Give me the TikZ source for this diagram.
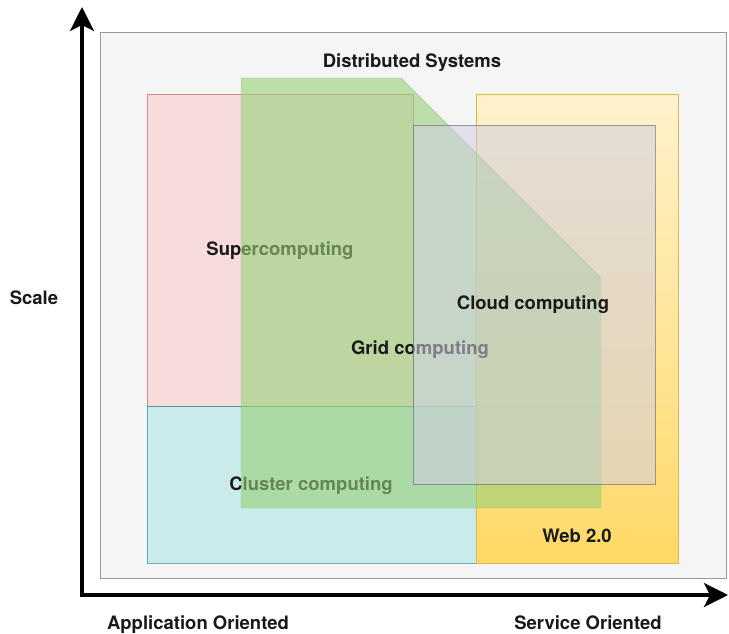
\documentclass[tikz,border=0pt]{standalone}
\usepackage{fontspec}
\setmainfont{TeX Gyre Heros}
\usepackage{tikz}
\usepackage{xcolor}
\usetikzlibrary{
    arrows.meta,
    calc,
    positioning
}

\definecolor{outerfill}{HTML}{F5F5F5}
\definecolor{outerline}{HTML}{999999}
\definecolor{redfill}{HTML}{F8CECC}
\definecolor{redline}{HTML}{B85450}
\definecolor{cyanfill}{HTML}{B0E3E6}
\definecolor{cyanline}{HTML}{0E8088}
\definecolor{yellowtop}{HTML}{FFF2CC}
\definecolor{yellowbot}{HTML}{FFD966}
\definecolor{yellowline}{HTML}{D6B656}
\definecolor{greenfill}{HTML}{97D077}
\definecolor{greenline}{HTML}{82B366}
\definecolor{purplefill}{HTML}{D0CEE2}
\definecolor{purpleline}{HTML}{56517E}

\begin{document}
\begin{tikzpicture}[x=1pt, y=1pt,
    lbl/.style={font=\fontsize{18.5}{22}\selectfont\bfseries, inner sep=0pt, text=black!90},
    axis/.style={line width=3.5pt,
        {Stealth[length=24pt, width=24pt, inset=6pt]}-{Stealth[length=24pt, width=24pt, inset=6pt]}}]
                        \useasboundingbox (0, 0) rectangle (729, -634);

                        \draw[fill=outerfill, draw=outerline]
                        (100, -32) rectangle (726, -578);
                        \node[lbl] (ds) at (412, -63) {Distributed Systems};

                        \draw[fill=redfill, draw=redline, opacity=0.6]
                        (147, -94) rectangle (413, -406);
                        \node[lbl] (super) at (280, -251) {Supercomputing};

                        \draw[fill=cyanfill, draw=cyanline, opacity=0.6]
                        (147, -406) rectangle (476, -563);
                        \node[lbl] (cluster) at (311, -486) {Cluster computing};

                        \fill[top color=yellowtop, bottom color=yellowbot]
                        (476, -94) rectangle (678, -563);
                        \draw[yellowline] (476, -94) rectangle (678, -563);
                        \node[lbl] (web) at (577, -536) {Web 2.0};

                        \draw[fill=greenfill, draw=greenline, opacity=0.6]
                        (241, -78) -- (401, -78) -- (601, -278) -- (601, -508) -- (241, -508) -- cycle;
                        \node[lbl] (grid) at (420, -350) {Grid computing};

                        \draw[fill=purplefill, draw=purpleline, opacity=0.55]
                        (413, -125) rectangle (655, -484);
                        \node[lbl] (cloud) at (533, -305) {Cloud computing};

                        \node[lbl] (scale) at (34, -298) {Scale};
                        \node[lbl, anchor=base] (app) at (198, -629) {Application Oriented};
                        \node[lbl, anchor=base] (service) at (588, -629) {Service Oriented};

                        \coordinate (origin) at (82, -595);
                        \coordinate (ytop) at (82, -7);
                        \coordinate (xend) at (728, -595);
                        \draw[axis] (ytop) -- (origin) -- (xend);
                    \end{tikzpicture}
\end{document}
